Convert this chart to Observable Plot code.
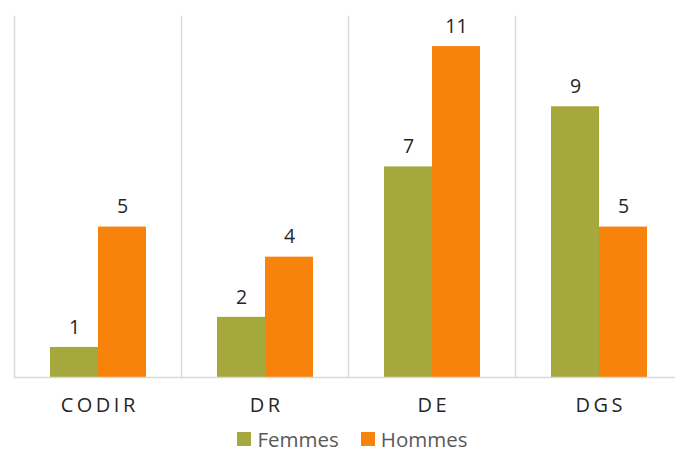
<!DOCTYPE html>
<html>
<head>
<meta charset="utf-8">
<script src="https://cdn.jsdelivr.net/npm/d3@7"></script>
<script src="https://cdn.jsdelivr.net/npm/@observablehq/plot@0.6"></script>
<style>
  html, body { margin: 0; padding: 0; background: #fff; overflow: hidden; }
  body { width: 675px; height: 453px; font-family: "Open Sans", sans-serif; }
  #chart svg { display: block; }
  g[aria-label="fx-axis tick label"] text { letter-spacing: 3.5px; }
  .legend { display: flex; justify-content: center; align-items: center; gap: 22px; height: 29px; margin-left: 30px; }
  .legend .item { display: flex; align-items: center; font-size: 20.5px; line-height: 28px; color: #595959; font-family: "Open Sans", sans-serif; }
  .legend .sw { width: 14px; height: 14px; margin-right: 6px; display: inline-block; }
</style>
</head>
<body>
<div id="chart"></div>
<div class="legend" id="legend"></div>
<script>
const categories = ["CODIR", "DR", "DE", "DGS"];
const series = ["Femmes", "Hommes"];
const femmes = [1, 2, 7, 9];
const hommes = [5, 4, 11, 5];
const colors = ["#A5A83D", "#F7820C"];

const data = categories.flatMap((c, i) => [
  {cat: c, sex: series[0], value: femmes[i]},
  {cat: c, sex: series[1], value: hommes[i]}
]);

const chart = Plot.plot({
  width: 675,
  height: 424,
  marginLeft: 14,
  marginRight: 0,
  marginTop: 16,
  marginBottom: 47,
  style: {fontFamily: "'Open Sans', sans-serif", background: "#fff"},
  fx: {domain: categories, range: [13, 682], paddingInner: 0, paddingOuter: 0, label: null, axis: null},
  x: {domain: series, paddingInner: 0, paddingOuter: 0.72, axis: null},
  y: {domain: [0, 12], axis: null},
  color: {domain: series, range: colors},
  marks: [
    Plot.frame({anchor: "left", stroke: "#d9d9d9", strokeWidth: 1.5}),
    Plot.barY(data, {fx: "cat", x: "sex", y: "value", fill: "sex"}),
    Plot.ruleY([0], {stroke: "#d9d9d9", strokeWidth: 1.5}),
    Plot.text(data, {fx: "cat", x: "sex", y: "value", text: d => String(d.value), dy: -20, fontSize: 19.5, fill: "#262626"}),
    Plot.axisFx({anchor: "bottom", tickSize: 0, tickPadding: 20, fontSize: 20, fill: "#262626", label: null, dx: 1.75})
  ]
});
document.getElementById("chart").appendChild(chart);

const legend = document.getElementById("legend");
series.forEach((s, i) => {
  const item = document.createElement("div");
  item.className = "item";
  const sw = document.createElement("span");
  sw.className = "sw";
  sw.style.background = colors[i];
  item.appendChild(sw);
  item.appendChild(document.createTextNode(s));
  legend.appendChild(item);
});
</script>
</body>
</html>
